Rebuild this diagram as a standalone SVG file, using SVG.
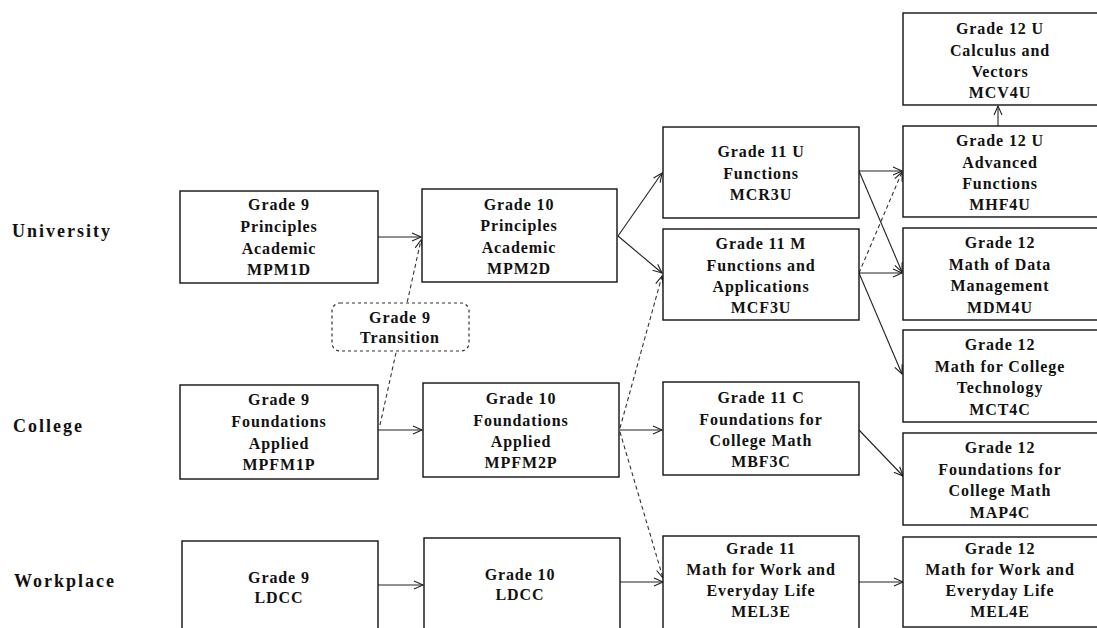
<svg xmlns="http://www.w3.org/2000/svg" width="1097" height="628" viewBox="0 0 1097 628">
<style>
.box{fill:#fff;stroke:#111;stroke-width:1.4}
.tr{fill:#fff;stroke:#333;stroke-width:1.2;stroke-dasharray:3 3}
.t{font-family:"Liberation Serif",serif;font-weight:bold;font-size:16px;fill:#111;text-anchor:middle;letter-spacing:0.9px}
.lab{font-family:"Liberation Serif",serif;font-weight:bold;font-size:18px;fill:#111;letter-spacing:2px}
.c{fill:none;stroke:#222;stroke-width:1.1}
.d{fill:none;stroke:#333;stroke-width:1.1;stroke-dasharray:4 3}
</style>
<defs>
<marker id="ah" markerWidth="12" markerHeight="12" refX="10" refY="5" orient="auto" markerUnits="userSpaceOnUse">
<path d="M1,1 L10,5 L1,9" fill="none" stroke="#222" stroke-width="1.1"/>
</marker>
</defs>
<rect width="1097" height="628" fill="#fff"/>

<g id="labels">
<text class="lab" x="12" y="237">University</text>
<text class="lab" x="13" y="432">College</text>
<text class="lab" x="14" y="587">Workplace</text>
</g>

<g id="connectors">
<path class="c" d="M378,237 L421,237" marker-end="url(#ah)"/>
<path class="d" d="M380,425 L421,240" marker-end="url(#ah)"/>
<path class="c" d="M378,430 L422,430" marker-end="url(#ah)"/>
<path class="c" d="M378,585 L423,585" marker-end="url(#ah)"/>
<path class="c" d="M618,236 L662,173" marker-end="url(#ah)"/>
<path class="c" d="M618,236 L662,273" marker-end="url(#ah)"/>
<path class="d" d="M620,428 L662,276" marker-end="url(#ah)"/>
<path class="c" d="M620,430 L662,430" marker-end="url(#ah)"/>
<path class="d" d="M620,432 L663,578" marker-end="url(#ah)"/>
<path class="c" d="M620,582 L663,582" marker-end="url(#ah)"/>
<path class="c" d="M859,171 L902,171" marker-end="url(#ah)"/>
<path class="c" d="M859,171 L902,272" marker-end="url(#ah)"/>
<path class="d" d="M859,273 L902,172" marker-end="url(#ah)"/>
<path class="c" d="M859,273 L902,273" marker-end="url(#ah)"/>
<path class="c" d="M859,273 L902,374" marker-end="url(#ah)"/>
<path class="c" d="M859,430 L903,476" marker-end="url(#ah)"/>
<path class="c" d="M859,582 L903,582" marker-end="url(#ah)"/>
<path class="c" d="M998,126 L998,106" marker-end="url(#ah)"/>
</g>

<g id="transition">
<rect class="tr" x="332" y="303" width="137" height="48" rx="8"/>
<text class="t" x="400" y="323">Grade 9</text>
<text class="t" x="400" y="343">Transition</text>
</g>

<g id="g9p">
<rect class="box" x="180" y="191" width="198" height="92"/>
<text class="t" x="279" y="210">Grade 9</text>
<text class="t" x="279" y="232">Principles</text>
<text class="t" x="279" y="254">Academic</text>
<text class="t" x="279" y="275">MPM1D</text>
</g>

<g id="g10p">
<rect class="box" x="422" y="189" width="195" height="93"/>
<text class="t" x="519" y="210">Grade 10</text>
<text class="t" x="519" y="231">Principles</text>
<text class="t" x="519" y="253">Academic</text>
<text class="t" x="519" y="274">MPM2D</text>
</g>

<g id="g11u">
<rect class="box" x="663" y="127" width="196" height="91"/>
<text class="t" x="761" y="157">Grade 11 U</text>
<text class="t" x="761" y="179">Functions</text>
<text class="t" x="761" y="200">MCR3U</text>
</g>

<g id="g11m">
<rect class="box" x="663" y="229" width="196" height="91"/>
<text class="t" x="761" y="249">Grade 11 M</text>
<text class="t" x="761" y="271">Functions and</text>
<text class="t" x="761" y="292">Applications</text>
<text class="t" x="761" y="313">MCF3U</text>
</g>

<g id="g12calc">
<rect class="box" x="903" y="13" width="200" height="92"/>
<text class="t" x="1000" y="34">Grade 12 U</text>
<text class="t" x="1000" y="56">Calculus and</text>
<text class="t" x="1000" y="77">Vectors</text>
<text class="t" x="1000" y="98">MCV4U</text>
</g>

<g id="g12adv">
<rect class="box" x="903" y="126" width="200" height="91"/>
<text class="t" x="1000" y="146">Grade 12 U</text>
<text class="t" x="1000" y="168">Advanced</text>
<text class="t" x="1000" y="189">Functions</text>
<text class="t" x="1000" y="210">MHF4U</text>
</g>

<g id="g12data">
<rect class="box" x="903" y="228" width="200" height="92"/>
<text class="t" x="1000" y="248">Grade 12</text>
<text class="t" x="1000" y="270">Math of Data</text>
<text class="t" x="1000" y="291">Management</text>
<text class="t" x="1000" y="313">MDM4U</text>
</g>

<g id="g12tech">
<rect class="box" x="903" y="330" width="200" height="92"/>
<text class="t" x="1000" y="350">Grade 12</text>
<text class="t" x="1000" y="372">Math for College</text>
<text class="t" x="1000" y="393">Technology</text>
<text class="t" x="1000" y="415">MCT4C</text>
</g>

<g id="g12found">
<rect class="box" x="903" y="433" width="200" height="92"/>
<text class="t" x="1000" y="453">Grade 12</text>
<text class="t" x="1000" y="475">Foundations for</text>
<text class="t" x="1000" y="496">College Math</text>
<text class="t" x="1000" y="518">MAP4C</text>
</g>

<g id="g12work">
<rect class="box" x="903" y="537" width="200" height="90"/>
<text class="t" x="1000" y="554">Grade 12</text>
<text class="t" x="1000" y="575">Math for Work and</text>
<text class="t" x="1000" y="596">Everyday Life</text>
<text class="t" x="1000" y="617">MEL4E</text>
</g>

<g id="g11c">
<rect class="box" x="663" y="382" width="196" height="93"/>
<text class="t" x="761" y="403">Grade 11 C</text>
<text class="t" x="761" y="425">Foundations for</text>
<text class="t" x="761" y="446">College Math</text>
<text class="t" x="761" y="467">MBF3C</text>
</g>

<g id="g11work">
<rect class="box" x="663" y="536" width="196" height="100"/>
<text class="t" x="761" y="554">Grade 11</text>
<text class="t" x="761" y="575">Math for Work and</text>
<text class="t" x="761" y="596">Everyday Life</text>
<text class="t" x="761" y="617">MEL3E</text>
</g>

<g id="g9f">
<rect class="box" x="180" y="385" width="198" height="94"/>
<text class="t" x="279" y="405">Grade 9</text>
<text class="t" x="279" y="427">Foundations</text>
<text class="t" x="279" y="449">Applied</text>
<text class="t" x="279" y="470">MPFM1P</text>
</g>

<g id="g10f">
<rect class="box" x="423" y="383" width="196" height="94"/>
<text class="t" x="521" y="404">Grade 10</text>
<text class="t" x="521" y="426">Foundations</text>
<text class="t" x="521" y="447">Applied</text>
<text class="t" x="521" y="468">MPFM2P</text>
</g>

<g id="g9l">
<rect class="box" x="182" y="541" width="196" height="100"/>
<text class="t" x="279" y="583">Grade 9</text>
<text class="t" x="279" y="603">LDCC</text>
</g>

<g id="g10l">
<rect class="box" x="424" y="538" width="196" height="100"/>
<text class="t" x="520" y="580">Grade 10</text>
<text class="t" x="520" y="600">LDCC</text>
</g>
</svg>
